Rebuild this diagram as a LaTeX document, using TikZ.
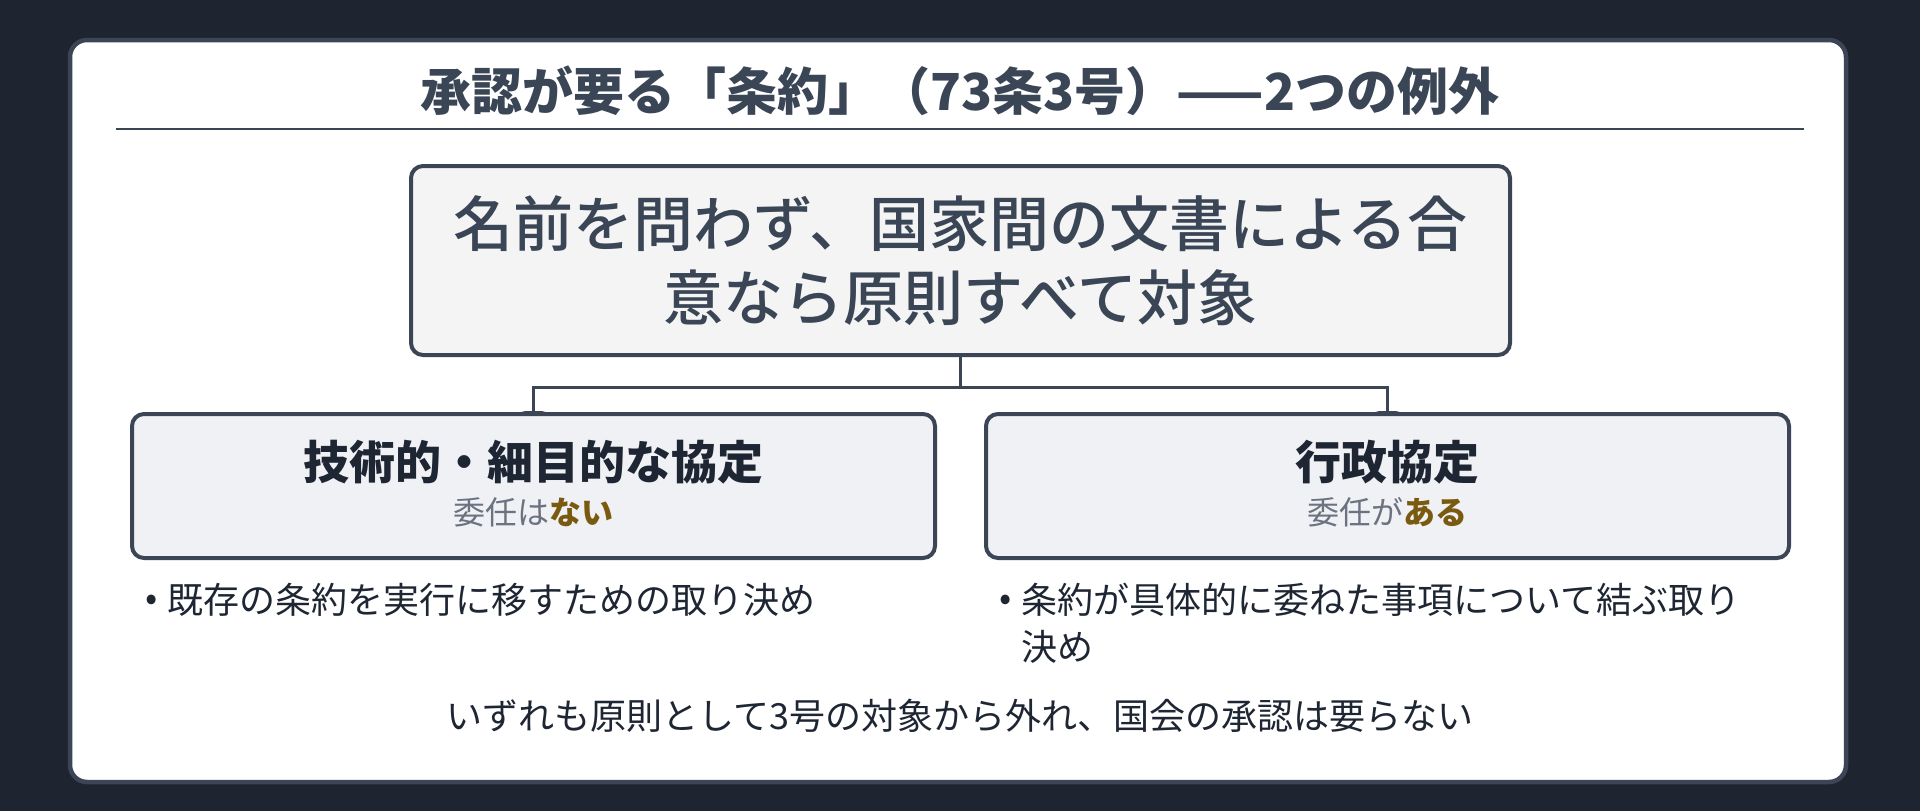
\documentclass[tikz,border=0pt]{standalone}
\usepackage{fontspec}
\setmainfont{Noto Sans CJK JP}
\newfontfamily\mediumface{Noto Sans CJK JP}[UprightFont={* Medium}]
\usetikzlibrary{positioning,arrows.meta}

\definecolor{bgdark}{HTML}{1E2530}
\definecolor{slate}{HTML}{3B4556}
\definecolor{textslate}{HTML}{3A4555}
\definecolor{inkdark}{HTML}{1F2633}
\definecolor{mutegray}{HTML}{6B7280}
\definecolor{ochre}{HTML}{7A5A10}
\definecolor{mainfill}{HTML}{F4F4F5}
\definecolor{subfill}{HTML}{F0F1F5}

\begin{document}
\begin{tikzpicture}[x=1pt,y=-1pt,
  card/.style={draw=slate,line width=4.5pt,fill=white,rounded corners=17pt},
  rule/.style={draw=slate,line width=2.5pt},
  headline/.style={text=textslate,font=\fontsize{51}{60}\selectfont\bfseries},
  mainbox/.style={draw=slate,line width=4pt,fill=mainfill,rounded corners=12pt,
    minimum width=1099pt,minimum height=189pt,align=center,text=textslate,
    font=\fontsize{60}{74}\selectfont\mediumface},
  kindbox/.style={draw=slate,line width=4pt,fill=subfill,rounded corners=12pt,
    minimum width=803pt,minimum height=144pt},
  kindname/.style={text=inkdark,font=\fontsize{46}{55}\selectfont\bfseries},
  kindnote/.style={text=mutegray,font=\fontsize{32}{40}\selectfont},
  itemtext/.style={text=inkdark,font=\fontsize{36}{47}\selectfont,align=left},
  link/.style={draw=slate,line width=3pt,-{Triangle[width=24pt,length=3pt]}}
]
  \fill[bgdark] (0,0) rectangle (1920,811);
  \useasboundingbox (0,0) rectangle (1920,811);
  \draw[card] (70,40) rectangle (1846,782);

  \node[headline] (heading) at (960,91) {承認が要る「条約」（73条3号）——2つの例外};
  \draw[rule] (116,129) -- (1804,129);

  \node[mainbox] (scope) at (960.5,260.5) {名前を問わず、国家間の文書による合\\意なら原則すべて対象};
  \coordinate (split) at (960.5,387);

  \draw[link] (scope.south) -- (split) -| (533.5,414);
  \draw[link] (split) -| (1387.5,414);

  \node[kindbox] (tech) at (533.5,486) {};
  \node[kindbox] (exec) at (1387.5,486) {};

  \node[kindname] (techname) at (533.5,462) {技術的・細目的な協定};
  \node[kindnote] (technote) at (533.5,512) {委任は\textcolor{ochre}{\textbf{ない}}};
  \node[kindname] (execname) at (1387.5,462) {行政協定};
  \node[kindnote] (execnote) at (1387.5,512) {委任が\textcolor{ochre}{\textbf{ある}}};

  \node[itemtext] (dot1) at (152,603) {•};
  \node[itemtext,anchor=west] (item1) at (164,600) {既存の条約を実行に移すための取り決め};
  \node[itemtext] (dot2) at (1006,603) {•};
  \node[itemtext,anchor=west] (item2) at (1018,623.5) {条約が具体的に委ねた事項について結ぶ取り\\決め};

  \node[itemtext] (verdict) at (960,716) {いずれも原則として3号の対象から外れ、国会の承認は要らない};
\end{tikzpicture}
\end{document}
